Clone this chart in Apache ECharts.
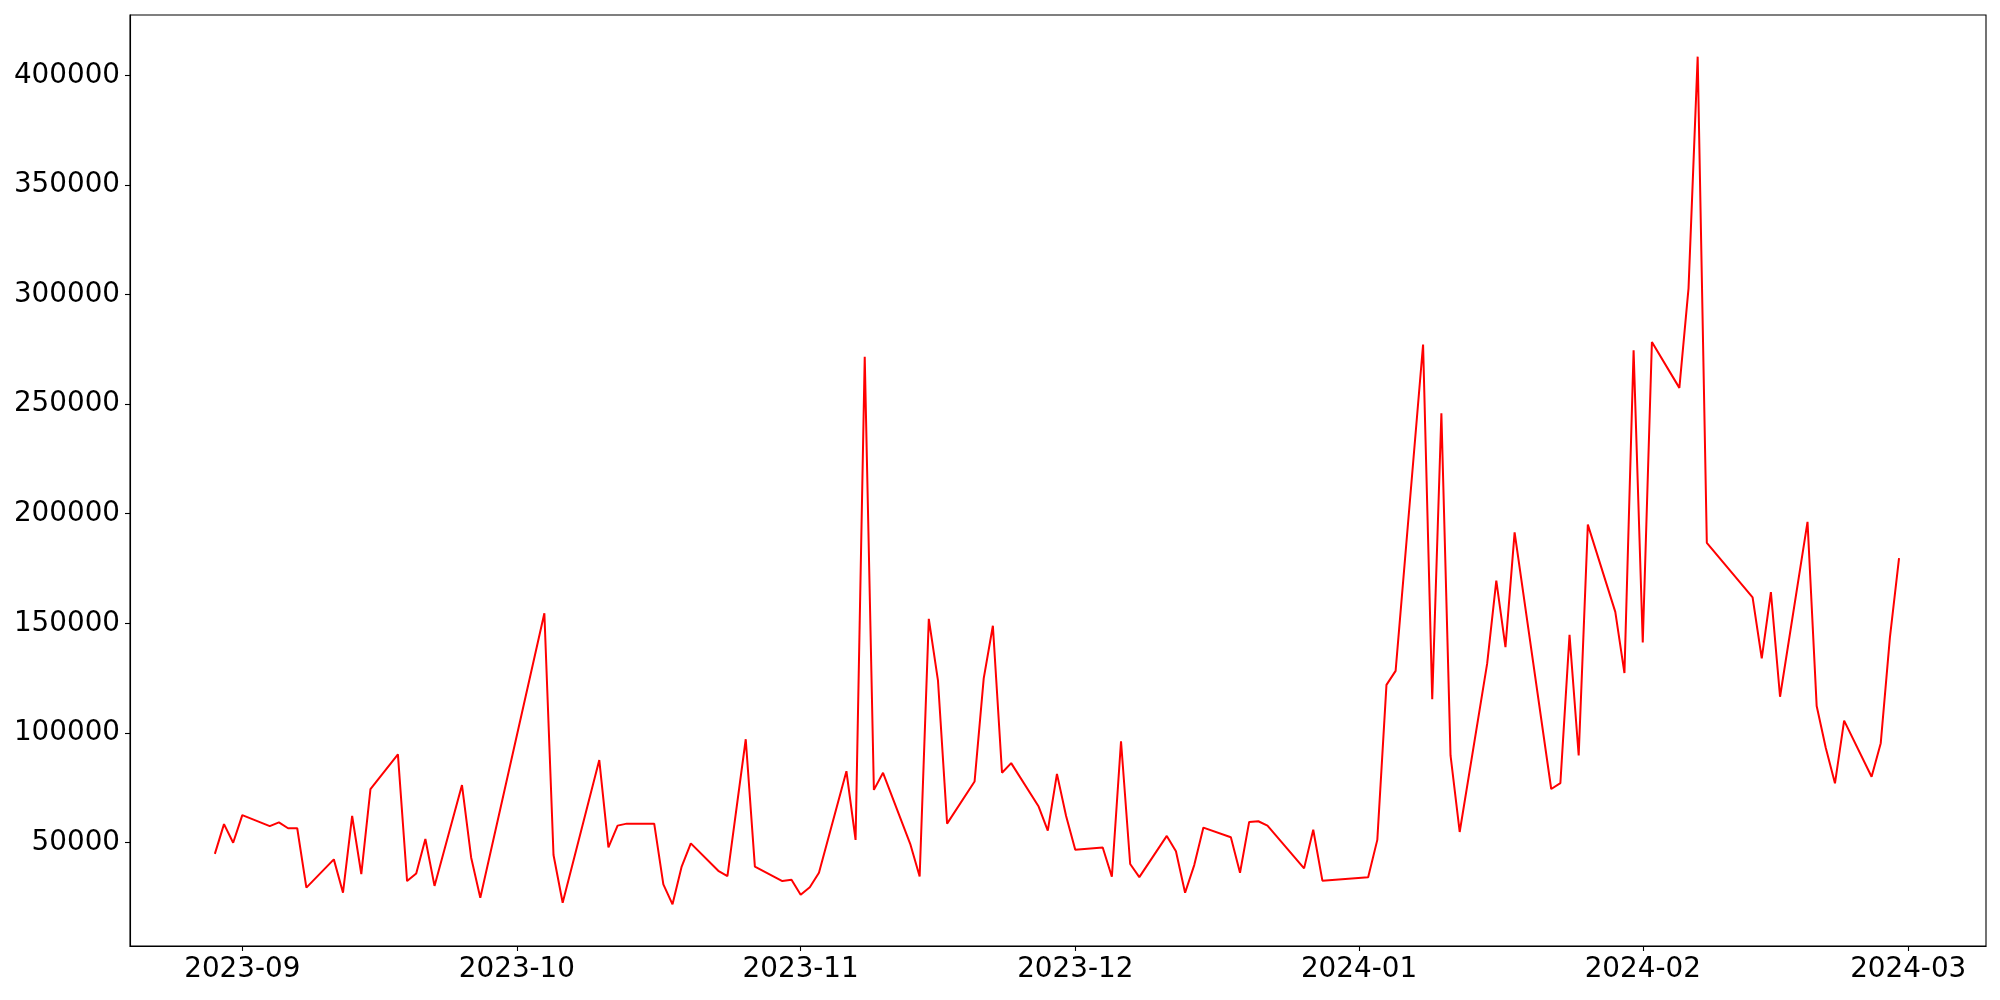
<!DOCTYPE html>
<html>
<head>
<meta charset="utf-8">
<script src="https://cdn.jsdelivr.net/npm/echarts@6/dist/echarts.min.js"></script>
<style>html,body{margin:0;padding:0;background:#fff}#chart{width:2000px;height:1000px}</style>
</head>
<body>
<div id="chart"></div>
<script>
const dates = [
'2023-08-29','2023-08-30','2023-08-31','2023-09-01','2023-09-04','2023-09-05','2023-09-06','2023-09-07','2023-09-08',
'2023-09-11','2023-09-12','2023-09-13','2023-09-14','2023-09-15','2023-09-18','2023-09-19','2023-09-20','2023-09-21','2023-09-22',
'2023-09-25','2023-09-26','2023-09-27','2023-10-04','2023-10-05','2023-10-06','2023-10-10','2023-10-11','2023-10-12','2023-10-13',
'2023-10-16','2023-10-17','2023-10-18','2023-10-19','2023-10-20','2023-10-23','2023-10-24','2023-10-26','2023-10-27',
'2023-10-30','2023-10-31','2023-11-01','2023-11-02','2023-11-03','2023-11-06','2023-11-07','2023-11-08','2023-11-09','2023-11-10',
'2023-11-13','2023-11-14','2023-11-15','2023-11-16','2023-11-17','2023-11-20','2023-11-21','2023-11-22','2023-11-23','2023-11-24',
'2023-11-27','2023-11-28','2023-11-29','2023-11-30','2023-12-01','2023-12-04','2023-12-05','2023-12-06','2023-12-07','2023-12-08',
'2023-12-11','2023-12-12','2023-12-13','2023-12-14','2023-12-15','2023-12-18','2023-12-19','2023-12-20','2023-12-21','2023-12-22',
'2023-12-26','2023-12-27','2023-12-28','2024-01-02','2024-01-03','2024-01-04','2024-01-05',
'2024-01-08','2024-01-09','2024-01-10','2024-01-11','2024-01-12','2024-01-15','2024-01-16','2024-01-17','2024-01-18',
'2024-01-22','2024-01-23','2024-01-24','2024-01-25','2024-01-26','2024-01-29','2024-01-30','2024-01-31','2024-02-01','2024-02-02',
'2024-02-05','2024-02-06','2024-02-07','2024-02-08','2024-02-13','2024-02-14','2024-02-15','2024-02-16',
'2024-02-19','2024-02-20','2024-02-21','2024-02-22','2024-02-23','2024-02-26','2024-02-27','2024-02-28','2024-02-29'
];
const values = [
44800,58400,49900,62500,57500,59200,56500,56500,29400,
42300,27100,62100,35600,74300,90200,32400,35900,51600,30200,
76200,43200,24800,154600,44300,22500,87600,47800,57700,58600,
58600,30900,21800,39000,49600,37100,34700,97100,39000,
32400,33000,26200,29600,36200,82500,51200,271600,74000,81800,
49000,34500,152000,124000,58600,77800,124900,148900,81800,86200,
66400,55400,81300,62100,46700,47700,34400,96200,40200,34200,
53000,46000,27100,39700,56800,52400,36200,59400,59700,57700,
38200,55800,32600,34100,51200,121900,128300,
277200,115400,245800,89700,54800,131600,169500,139100,191500,
74400,77100,144700,89700,195000,155200,127300,274500,141200,278300,
257400,302800,408500,186700,161800,134000,164200,116500,
196300,112300,93100,77000,105600,80000,95300,143500,179700
];
const yTicks = [50000,100000,150000,200000,250000,300000,350000,400000];
const xTickLabels = ['2023-09','2023-10','2023-11','2023-12','2024-01','2024-02','2024-03'];

const DAY = 86400000;
function parseDay(s){const p=s.split('-').map(Number);return Date.UTC(p[0],p[1]-1,p[2]||1);}
const xTicks = xTickLabels.map(s=>parseDay(s+'-01'));
const xLabelMap = {};
xTicks.forEach((t,i)=>{xLabelMap[t]=xTickLabels[i];});
const base = parseDay('2023-09-01');
const seriesData = dates.map((d,i)=>[parseDay(d), values[i]]);
const font = 'DejaVu Sans';

const chart = echarts.init(document.getElementById('chart'), null, {renderer:'canvas'});
chart.setOption({
  animation:false,
  backgroundColor:'#fff',
  grid:{left:130,right:14,top:15,bottom:54,show:true,borderColor:'#000',borderWidth:1.1,backgroundColor:'transparent',containLabel:false},
  xAxis:{
    type:'value',
    min: base - 12.27*DAY,
    max: base + 190.5*DAY,
    axisLine:{show:true,onZero:false,lineStyle:{color:'#000',width:1.1}},
    axisTick:{show:true,length:5,lineStyle:{color:'#000',width:1.1},customValues:xTicks},
    axisLabel:{show:true,color:'#000',fontFamily:font,fontSize:27.8,margin:10,customValues:xTicks,
      formatter:function(v){return xLabelMap[v] !== undefined ? xLabelMap[v] : '';}},
    splitLine:{show:false}
  },
  yAxis:{
    type:'value',
    min:2783,
    max:427500,
    axisLine:{show:true,onZero:false,lineStyle:{color:'#000',width:1.1}},
    axisTick:{show:true,length:5,lineStyle:{color:'#000',width:1.1},customValues:yTicks},
    axisLabel:{show:true,color:'#000',fontFamily:font,fontSize:27.8,margin:10,customValues:yTicks,formatter:function(v){return String(v);}},
    splitLine:{show:false}
  },
  series:[{
    type:'line',
    data:seriesData,
    showSymbol:false,
    symbol:'none',
    lineStyle:{color:'#ff0000',width:2},
    itemStyle:{color:'#ff0000'}
  }]
});
</script>
</body>
</html>
